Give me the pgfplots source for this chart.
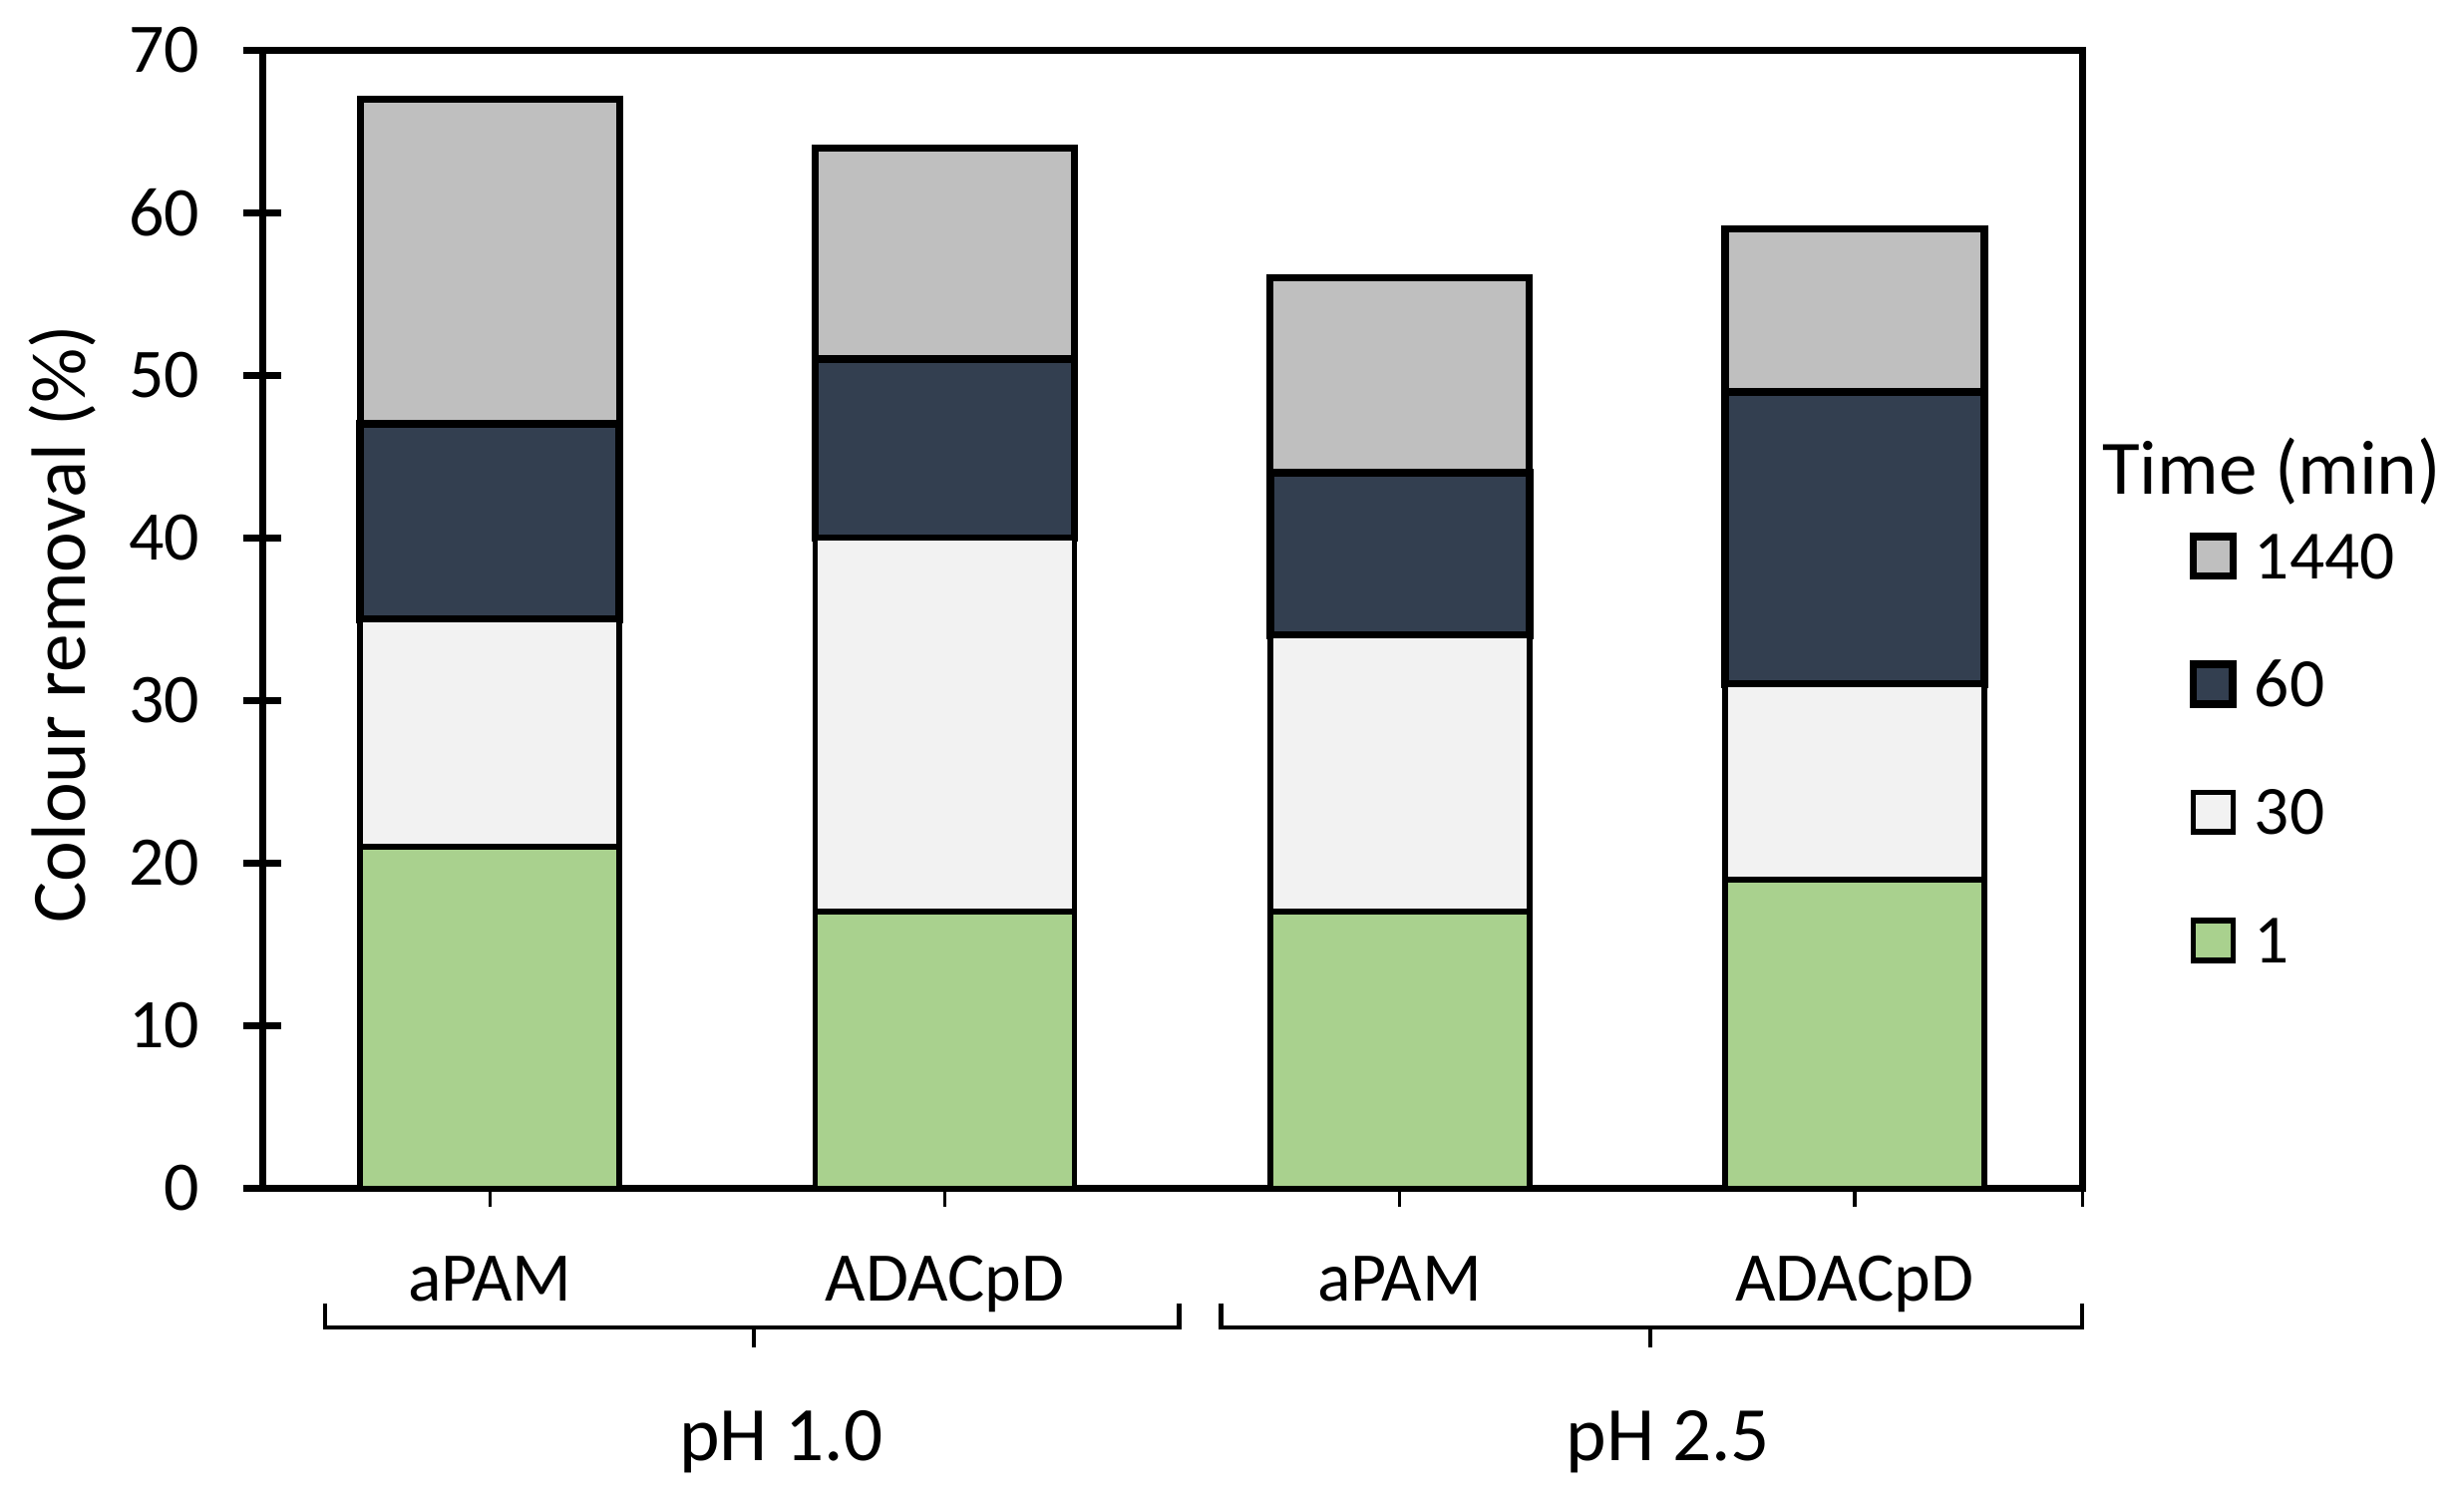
\documentclass[border=0pt]{standalone}
\usepackage{fontspec}
\setmainfont{Carlito}
\usepackage{pgfplots}
\pgfplotsset{compat=1.18}
\definecolor{cG}{HTML}{A9D18E}
\definecolor{cL}{HTML}{F2F2F2}
\definecolor{cD}{HTML}{333F50}
\definecolor{cM}{HTML}{BFBFBF}
\begin{document}
\begin{tikzpicture}
\useasboundingbox (-50.1pt,-60.5pt) rectangle (420.3pt,226.8pt);
\begin{axis}[
  at={(0,0)}, anchor=south west,
  width=347.4pt, height=217.2pt, scale only axis,
  ybar stacked, bar width=49.5pt,
  xmin=-0.5, xmax=3.5, ymin=0, ymax=70,
  xtick={0,1,2,3}, xticklabels={aPAM,ADACpD,aPAM,ADACpD},
  extra x ticks={3.5}, extra x tick labels={},
  ytick={0,10,...,70},
  xtick pos=bottom, ytick pos=left,
  tick align=center, major tick length=7.2pt,
  axis line style={line width=1.3pt},
  x tick style={line width=0.6pt, black},
  y tick style={line width=1.2pt, black},
  /pgf/number format/assume math mode=true,
  ticklabel style={font=\fontsize{13.3}{15}\selectfont},
  yticklabel style={inner sep=0pt, xshift=-8.2pt},
  xticklabel style={anchor=base, inner sep=0pt, yshift=-18pt},
  ylabel={Colour removal (\%)},
  ylabel style={at={(axis description cs:-0.1097,0.496)}, anchor=center, font=\fontsize{14.7}{17}\selectfont},
  clip=false,
  reverse legend,
  legend cell align=left,
  legend image code/.code={\draw[#1] (0pt,-3.8pt) rectangle (7.6pt,3.8pt); \path (10.95pt,0pt);},
  legend style={at={(1.0583,0.5804)}, anchor=north west, draw=none, fill=none, inner sep=0pt,
    font=\fontsize{13.2}{15}\selectfont, row sep=13.92pt,
    nodes={inner sep=0pt, text height=9.5pt, text depth=1pt}},
]
\addplot[fill=cG, draw=black, line width=1.1pt] coordinates {(0,21) (1,17) (2,17) (3,19)};
\addplot[fill=cL, draw=black, line width=1.1pt] coordinates {(0,14) (1,23) (2,17) (3,12)};
\addplot[fill=cD, draw=black, line width=1.5pt] coordinates {(0,12) (1,11) (2,10) (3,18)};
\addplot[fill=cM, draw=black, line width=1.4pt] coordinates {(0,20) (1,13) (2,12) (3,10)};
\legend{1,30,60,1440}
\node[anchor=west, inner sep=0pt, font=\fontsize{14.7}{17}\selectfont] at (rel axis cs:1.0104,0.6298) {Time (min)};
% category group brackets
\draw[line width=0.8pt] ([yshift=-22pt]axis cs:-0.363,0) -- ([yshift=-26.6pt]axis cs:-0.363,0) -- ([yshift=-26.6pt]axis cs:1.515,0) -- ([yshift=-22pt]axis cs:1.515,0);
\draw[line width=0.8pt] ([yshift=-26.6pt]axis cs:0.58,0) -- ([yshift=-30.4pt]axis cs:0.58,0);
\draw[line width=0.8pt] ([yshift=-22pt]axis cs:1.607,0) -- ([yshift=-26.6pt]axis cs:1.607,0) -- ([yshift=-26.6pt]axis cs:3.5,0) -- ([yshift=-22pt]axis cs:3.5,0);
\draw[line width=0.8pt] ([yshift=-26.6pt]axis cs:2.55,0) -- ([yshift=-30.4pt]axis cs:2.55,0);
\node[anchor=base, inner sep=0pt, font=\fontsize{14.7}{17}\selectfont] at ([yshift=-51.9pt]axis cs:0.64,0) {pH 1.0};
\node[anchor=base, inner sep=0pt, font=\fontsize{14.7}{17}\selectfont] at ([yshift=-51.9pt]axis cs:2.59,0) {pH 2.5};
\end{axis}
\end{tikzpicture}
\end{document}
